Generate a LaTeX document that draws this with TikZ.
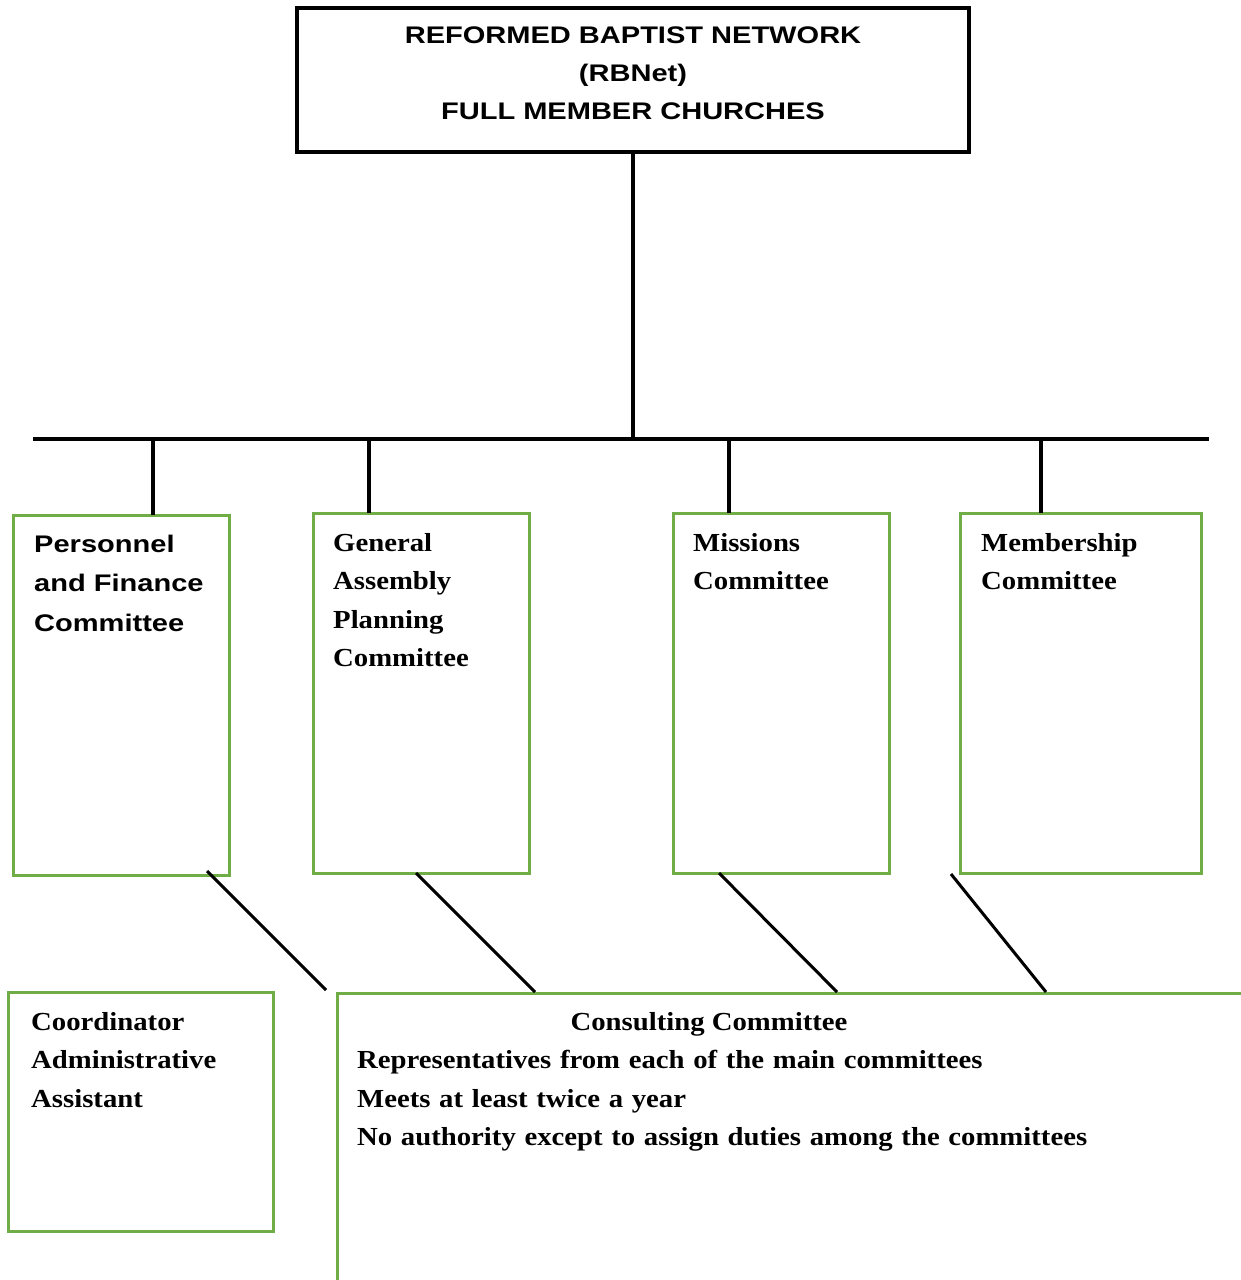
\documentclass[tikz,border=0pt]{standalone}
\usepackage{fontspec}
\newfontfamily\sansb{Liberation Sans}[FakeStretch=1.21]
\newfontfamily\serifb{Liberation Serif}[FakeStretch=1.105]
\usetikzlibrary{calc}
\definecolor{ggreen}{RGB}{112,173,71}
\begin{document}
\begin{tikzpicture}[x=1pt,y=-1pt,
  topbox/.style={draw=black,line width=3.5pt,anchor=north west,inner sep=0pt,outer sep=0pt,minimum width=672pt,minimum height=144pt},
  gbox/.style={draw=ggreen,line width=3pt,anchor=north west,inner sep=0pt,outer sep=0pt},
  link/.style={draw=black,line width=3.5pt},
  sanstxt/.style={font=\sansb\bfseries\fontsize{24}{39.5}\selectfont,inner sep=0pt,align=left,text width=#1},
  seriftxt/.style={font=\serifb\bfseries\fontsize{26}{38.5}\selectfont,inner sep=0pt,align=left,text width=#1},
  toptxt/.style={font=\sansb\bfseries\fontsize{24}{38}\selectfont,inner sep=0pt,align=center,text width=672pt}
]
\useasboundingbox[fill=white] (0,0) rectangle (1241,1280);

% top box
\node[topbox] (top) at (297,8) {};
\node[toptxt,anchor=base] (toptext) at (633,43) {REFORMED BAPTIST NETWORK\\(RBNet)\\FULL MEMBER CHURCHES};

% bus
\coordinate (busL) at (33,439);
\coordinate (busR) at (1209,439);
\coordinate (hub) at (633,439);
\draw[link] (top.south) -- (hub);
\draw[link] (busL) -- (busR);

% committee boxes
\node[gbox,minimum width=216pt,minimum height=360pt] (pf) at (13,515) {};
\node[gbox,minimum width=216pt,minimum height=360pt] (ga) at (313,513) {};
\node[gbox,minimum width=216pt,minimum height=360pt] (mi) at (673,513) {};
\node[gbox,minimum width=241pt,minimum height=360pt] (me) at (960,513) {};

\node[sanstxt=190pt,anchor=base west] (pft) at (34,552) {Personnel\\and Finance\\Committee};
\node[seriftxt=190pt,anchor=base west] (gat) at (333,551) {General\\Assembly\\Planning\\Committee};
\node[seriftxt=190pt,anchor=base west] (mit) at (693,551) {Missions\\Committee};
\node[seriftxt=215pt,anchor=base west] (met) at (981,551) {Membership\\Committee};

% drops
\coordinate (d1) at (153,439);
\coordinate (d2) at (369,439);
\coordinate (d3) at (729,439);
\coordinate (d4) at (1041,439);
\draw[link] (d1) -- (d1 |- pf.north);
\draw[link] (d2) -- (d2 |- ga.north);
\draw[link] (d3) -- (d3 |- mi.north);
\draw[link] (d4) -- (d4 |- me.north);

% coordinator box
\node[gbox,minimum width=265pt,minimum height=239pt] (co) at (8,992) {};
\node[seriftxt=240pt,anchor=base west] (cot) at (31,1030) {Coordinator\\Administrative\\Assistant};

% consulting box (runs off the page)
\begin{scope}
\clip (0,0) rectangle (1241,1280);
\node[gbox,minimum width=1000pt,minimum height=400pt] (cc) at (337,993) {};
\end{scope}
\node[font=\serifb\bfseries\fontsize{26}{38.5}\selectfont,inner sep=0pt,anchor=base] (cct) at (709,1030) {Consulting Committee};
\node[seriftxt=880pt,anchor=base west] (ccb) at (357,1068.5) {Representatives from each of the main committees\\Meets at least twice a year\\No authority except to assign duties among the committees};

% diagonal links
\coordinate (s1) at (207,871);
\coordinate (e1) at (326,990);
\coordinate (s2) at (416,873);
\coordinate (e2) at (535,992);
\coordinate (s3) at (719,873);
\coordinate (e3) at (837,992);
\coordinate (s4) at (951,874);
\coordinate (e4) at (1046,992);
\draw[link,line width=3pt] (s1) -- (e1);
\draw[link,line width=3pt] (s2) -- (e2);
\draw[link,line width=3pt] (s3) -- (e3);
\draw[link,line width=3pt] (s4) -- (e4);
\end{tikzpicture}
\end{document}
